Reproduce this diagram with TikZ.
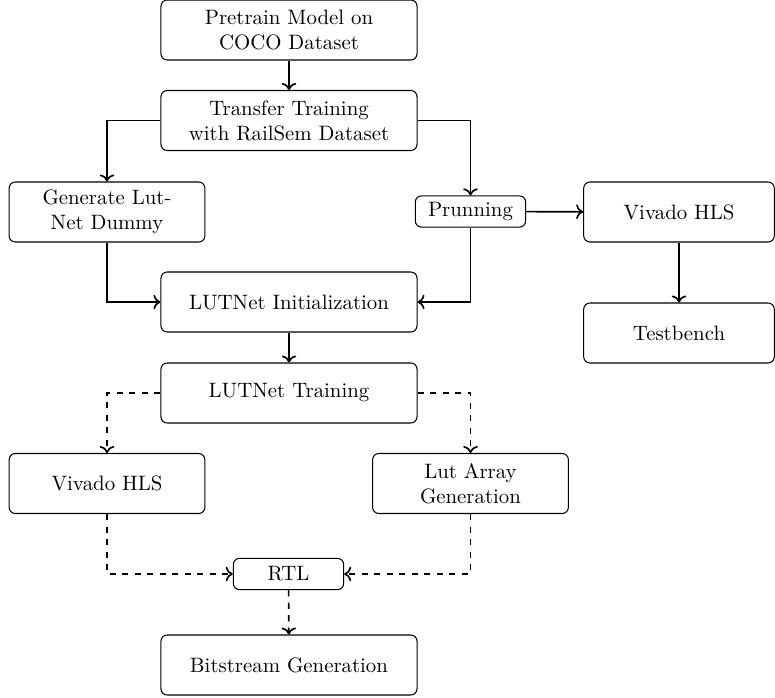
\documentclass[tikz,border=0pt]{standalone}
\usetikzlibrary{arrows.meta}
\begin{document}
\begin{tikzpicture}[x=0.48pt,y=-0.48pt,
  bigbox/.style={draw,rounded corners=3pt,minimum width=122.9pt,minimum height=28.8pt,align=center,inner sep=2pt,line width=0.5pt},
  midbox/.style={draw,rounded corners=3pt,minimum width=94pt,minimum height=28.8pt,align=center,inner sep=2pt,line width=0.5pt},
  smallbox/.style={draw,rounded corners=3pt,minimum width=53pt,minimum height=15pt,align=center,inner sep=2pt,line width=0.5pt},
  flow/.style={->,thick},
  dflow/.style={->,thick,dashed}]
\useasboundingbox (0,0) rectangle (775,697);
\node[bigbox] (pre) at (289,30) {Pretrain Model on\\COCO Dataset};
\node[bigbox] (tr) at (289,120.5) {Transfer Training\\with RailSem Dataset};
\node[midbox] (gen) at (107,212) {Generate Lut-\\Net Dummy};
\node[smallbox] (prun) at (470.5,211.5) {Prunning};
\node[midbox,minimum width=91.5pt] (viv) at (679,212) {Vivado HLS};
\node[midbox,minimum width=91.5pt] (test) at (679,333) {Testbench};
\node[bigbox] (init) at (289,302) {LUTNet Initialization};
\node[bigbox] (train) at (289,393) {LUTNet Training};
\node[midbox] (vivl) at (107,483.5) {Vivado HLS};
\node[midbox] (lut) at (470.5,483.5) {Lut Array\\Generation};
\node[smallbox] (rtl) at (288.5,574) {RTL};
\node[bigbox] (bit) at (289,665) {Bitstream Generation};
\draw[flow] (pre) -- (tr);
\draw[flow] (tr.west) -| (gen.north);
\draw[flow] (tr.east) -| (prun.north);
\draw[flow] (prun) -- (viv);
\draw[flow] (viv) -- (test);
\draw[flow] (gen.south) |- (init.west);
\draw[flow] (prun.south) |- (init.east);
\draw[flow] (init) -- (train);
\draw[dflow] (train.west) -| (vivl.north);
\draw[dflow] (train.east) -| (lut.north);
\draw[dflow] (vivl.south) |- (rtl.west);
\draw[dflow] (lut.south) |- (rtl.east);
\draw[dflow] (rtl) -- (bit);
\end{tikzpicture}
\end{document}
